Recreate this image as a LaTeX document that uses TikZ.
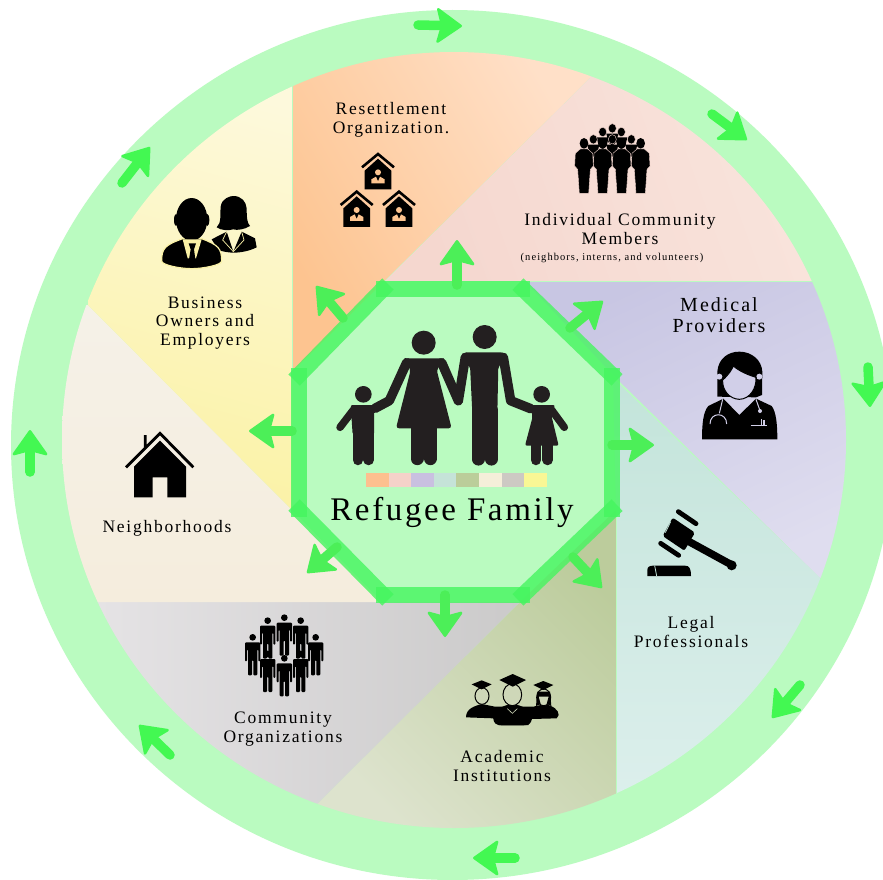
\documentclass[tikz,border=0pt]{standalone}
\usepackage{fontspec}
\usepackage{xcolor}
\usetikzlibrary{arrows.meta}
\newfontfamily\labelfont[LetterSpace=10]{Liberation Serif}
\newfontfamily\titlefont[LetterSpace=8]{Liberation Serif}
\definecolor{ringgreen}{HTML}{BAFBC0}
\definecolor{edgegreen}{HTML}{45F55F}
\definecolor{arrowgreen}{HTML}{4CEF58}
\definecolor{ringarrow}{HTML}{43F852}
\definecolor{iconblack}{HTML}{231F20}
\definecolor{orangebg}{HTML}{FDC490}
\definecolor{orangeend}{HTML}{FFE0C8}
\definecolor{pinkbg}{HTML}{F5D7CF}
\definecolor{pinkend}{HTML}{F9E4DC}
\definecolor{purplebg}{HTML}{C8C6E3}
\definecolor{purpleend}{HTML}{DFDDEF}
\definecolor{purpleface}{HTML}{D1CFE8}
\definecolor{yellowbg}{HTML}{FBF2A6}
\definecolor{yellowend}{HTML}{FDF9DC}
\definecolor{tealtop}{HTML}{C3E4DA}
\definecolor{tealend}{HTML}{DCEFEC}
\definecolor{olivetop}{HTML}{BCCC9C}
\definecolor{oliveend}{HTML}{DDE3CD}
\definecolor{olivemid}{HTML}{CED7B8}
\definecolor{greytop}{HTML}{CBCACA}
\definecolor{greyend}{HTML}{E5E3E5}
\definecolor{beigetop}{HTML}{F5F1E8}
\definecolor{beigeend}{HTML}{F5EDDD}
\tikzset{
	sectorlabel/.style={font=\labelfont\fontsize{17.5}{18.5}\selectfont, align=center, text=black},
	flow/.style={draw=arrowgreen, line width=9.5pt, line cap=round,
		-{Stealth[length=27pt,width=38pt,inset=5pt,round,line width=2.5pt]}},
	octaedge/.style={draw=edgegreen, opacity=0.8, line width=16pt, shorten >=-7pt, shorten <=-7pt},
	limb/.style={draw=iconblack, line cap=round, line join=round},
	% small house with a person in it, apex at the origin
	homeicon/.pic={
		\draw[line width=2.6pt, line join=miter] (-48,42) -- (0,2) -- (48,42);
		\fill (0,16) -- (40,52) -- (40,108) -- (-40,108) -- (-40,52) -- cycle;
		\fill[orangebg] (0,57) circle (9);
		\fill[orangebg] (-20,90) -- (-20,78) -- (-6,70) -- (0,84) -- (6,70) -- (20,78) -- (20,90) -- cycle;
	},
	% front figure of the crowd
	crowdfront/.pic={
		\fill (0,0) ellipse (13 and 16);
		\fill[draw=pinkbg, line width=0.4pt] (-11,17) -- (-26,30) -- (-28,68) -- (-19,78) -- (-14,150) -- (14,150) -- (19,78) -- (28,68) -- (26,30) -- (11,17) -- cycle;
	},
	crowdback/.pic={
		\fill[draw=pinkbg, line width=0.4pt] (0,0) ellipse (12 and 14);
		\fill (-18,16) -- (18,16) -- (12,42) -- (0,52) -- (-12,42) -- cycle;
	},
	% single figure of the organization group
	orgfigure/.pic={
		\fill (0,0) circle (10);
		\fill[rounded corners=1pt] (-23,15) -- (23,15) -- (23,72) -- (17,72) -- (17,36) -- (14,36) -- (14,114) -- (2,114) -- (2,68) -- (-2,68) -- (-2,114) -- (-14,114) -- (-14,36) -- (-17,36) -- (-17,72) -- (-23,72) -- cycle;
	},
}
\begin{document}
\begin{tikzpicture}[x=1pt, y=-1pt, node font=\labelfont]
	\useasboundingbox (0,0) rectangle (883,880);
	\clip (0,0) rectangle (883,880);
	\fill[white] (0,0) rectangle (883,880);
	\fill[ringgreen] (452.5,445) ellipse (441.5 and 435);

	% the eight sectors
	\begin{scope}
		\clip (454,440) ellipse (392 and 388);
		\shade[top color=orangeend, bottom color=orangebg, shading angle=-60] (292,372) -- (590,78) -- (590,48) -- (292,48) -- cycle;
		\shade[top color=pinkend, bottom color=pinkbg, shading angle=-70] (385,281) -- (590,78) -- (590,48) -- (812,48) -- (812,281) -- cycle;
		\shade[top color=purplebg, bottom color=purpleend, shading angle=25] (525,281) -- (846,281) -- (846,578) -- (820,578) -- (613,375) -- cycle;
		\shade[top color=tealtop, bottom color=tealend] (613,378) -- (820,578) -- (820,797) -- (616,797) -- (616,510) -- cycle;
		\shade[top color=olivetop, bottom color=oliveend, shading angle=-45] (616,510) -- (616,830) -- (316,830) -- (316,805) -- (520,602) -- cycle;
		\shade[left color=greyend, right color=greytop] (520,602) -- (316,805) -- (97,805) -- (97,602) -- cycle;
		\shade[top color=beigetop, bottom color=beigeend] (292,510) -- (382,602) -- (62,602) -- (62,305) -- (88,305) -- cycle;
		\shade[top color=yellowend, middle color=yellowbg!80!yellowend, bottom color=yellowbg, shading angle=-15] (88,305) -- (292,510) -- (292,60) -- (88,60) -- cycle;
		\draw[ringgreen, line width=1pt] (292,85) -- (292,372) (525,281) -- (812,281) (616,510) -- (616,797);
	\end{scope}

	% octagon
	\coordinate (o1) at (383,289);
	\coordinate (o2) at (523,289);
	\coordinate (o3) at (612,375);
	\coordinate (o4) at (612,510);
	\coordinate (o5) at (523,595);
	\coordinate (o6) at (383,595);
	\coordinate (o7) at (299,510);
	\coordinate (o8) at (299,375);
	\fill[ringgreen] (o1) -- (o2) -- (o3) -- (o4) -- (o5) -- (o6) -- (o7) -- (o8) -- cycle;
	\foreach \a/\b in {o1/o2,o2/o3,o3/o4,o4/o5,o5/o6,o6/o7,o7/o8,o8/o1}
		\draw[octaedge] (\a) -- (\b);

	% arrows around the ring
	\foreach \fx/\fy/\tx/\ty in {418/25/462/26, 712/114/747/140, 868/367/870/407, 800/685/772/718, 515/858/473/858, 170/755/139/725, 30/472/30/430, 122/183/150/147}
		\draw[flow, draw=ringarrow] (\fx,\fy) -- (\tx,\ty);
	% arrows leaving the octagon
	\foreach \fx/\fy/\tx/\ty in {457/285/457/240, 570/328/603/301, 612/445/654/445, 573/557/602/588, 445/595/445/637, 337/547/307/573, 292/431/249/431, 343/318/316/286}
		\draw[flow] (\fx,\fy) -- (\tx,\ty);

	% family
	\begin{scope}[shift={(290,270)}, scale=1/3]
		\fill[iconblack] (584,201) circle (36);
		\fill[iconblack, rounded corners=4pt] (518,247) -- (645,247) -- (655,275) -- (625,285) -- (622,430) -- (547,430) -- (540,285) -- (512,275) -- cycle;
		\draw[limb, line width=9.5pt] (640,262) -- (662,392) -- (722,416);
		\draw[limb, line width=9.5pt] (526,262) -- (505,392);
		\draw[limb, line width=12.5pt] (565,420) -- (565,568);
		\draw[limb, line width=12.5pt] (604,420) -- (604,568);

		\fill[iconblack] (401,218) circle (36);
		\fill[iconblack, rounded corners=3pt] (340,265) -- (465,265) -- (440,300) -- (485,475) -- (318,475) -- (362,300) -- cycle;
		\draw[limb, line width=9.5pt] (350,278) -- (298,392) -- (255,415);
		\draw[limb, line width=9.5pt] (455,278) -- (505,392);
		\draw[limb, line width=13pt] (381,470) -- (381,566);
		\draw[limb, line width=13pt] (421,470) -- (421,566);

		\fill[iconblack] (220,373) circle (25);
		\fill[iconblack, rounded corners=2pt] (182,405) -- (252,405) -- (252,495) -- (188,495) -- cycle;
		\draw[limb, line width=7.5pt] (190,420) -- (150,472);
		\draw[limb, line width=10.5pt] (204,490) -- (204,570);
		\draw[limb, line width=10.5pt] (236,490) -- (236,570);

		\fill[iconblack] (755,373) circle (25);
		\fill[iconblack, rounded corners=2pt] (720,405) -- (795,405) -- (785,440) -- (806,527) -- (705,527) -- (728,440) -- cycle;
		\draw[limb, line width=7.5pt] (785,420) -- (823,472);
		\draw[limb, line width=10.5pt] (738,520) -- (738,570);
		\draw[limb, line width=10.5pt] (773,520) -- (773,570);

		\foreach \n/\c in {0/FDC08F, 1/F5D2C9, 2/C9C0E0, 3/C5E3D8, 4/BBCD9A, 5/F5EFD9, 6/CDC9C3, 7/F9F795} {
			\definecolor{stripcolor}{HTML}{\c}
			\fill[stripcolor] (228+\n*67.75,610) rectangle (228+\n*67.75+67.75,650);
		}
	\end{scope}
	\node[font=\titlefont\fontsize{33}{33}\selectfont] (family) at (452,512) {Refugee Family};

	% homes
	\begin{scope}[shift={(290,60)}, scale=1/3]
		\path (264,280) pic[transform shape] {homeicon};
		\path (200,393) pic[transform shape] {homeicon};
		\path (327,393) pic[transform shape] {homeicon};
	\end{scope}
	\node[sectorlabel] (resettlement) at (391,120) {Resettlement\\Organization.};

	% crowd
	\begin{scope}[shift={(290,60)}, scale=1/3]
		\foreach \hx/\hy in {938/216, 967/205, 994/216, 910/238, 967/238, 1024/238}
			\path (\hx,\hy) pic[transform shape] {crowdback};
		\foreach \hx in {882,938,995,1052}
			\path (\hx,250) pic[transform shape] {crowdfront};
	\end{scope}
	\node[sectorlabel] (individual) at (620,229) {Individual Community\\Members};
	\node[font=\labelfont\fontsize{10.5}{11}\selectfont] (neighbors) at (612,258) {(neighbors, interns, and volunteers)};

	% medical provider
	\begin{scope}[shift={(630,280)}, scale=1/3]
		\fill (262,350) -- (262,275) .. controls (265,235) and (295,215) .. (328,215) .. controls (365,215) and (395,240) .. (397,275) -- (396,345) -- (378,352) -- cycle;
		\fill (216,478) .. controls (216,430) and (220,395) .. (235,378) -- (280,356) -- (328,405) -- (378,356) -- (425,378) .. controls (438,395) and (442,430) .. (442,478) -- cycle;
		\fill[purpleface] (268,290) circle (9) (388,290) circle (9);
		\draw[fill=purpleface, line width=1pt] (278,300) .. controls (295,285) and (305,270) .. (310,258) .. controls (330,275) and (355,285) .. (378,292) .. controls (380,325) and (360,357) .. (328,358) .. controls (298,357) and (276,330) .. (278,300) -- cycle;
		\draw[purpleface, line width=1pt] (278,358) -- (268,400) (240,432) .. controls (240,395) and (290,395) .. (290,432) (378,358) -- (390,392);
		\fill[purpleface] (390,393) circle (6);
		\draw[purpleface, line width=1.2pt] (362,437) -- (412,437) (395,417) -- (395,435) (402,420) -- (402,435);
	\end{scope}
	\node[sectorlabel, font=\labelfont\fontsize{20}{21}\selectfont] (medical) at (719,315) {Medical\\Providers};

	% gavel
	\begin{scope}[shift={(630,280)}, scale=1/3]
		\fill[rounded corners=2pt] (128,713) -- (195,758) -- (163,812) -- (98,768) -- cycle;
		\draw[line cap=round, line width=7.5pt] (172,782) -- (300,852);
		\fill (305,856) circle (15);
		\draw[line cap=round, line width=4.8pt] (145,695) -- (198,731);
		\draw[line cap=round, line width=4.8pt] (92,790) -- (146,826);
		\fill (52,888) -- (52,870) .. controls (52,860) and (60,857) .. (70,857) -- (165,857) .. controls (178,857) and (183,865) .. (183,888) -- cycle;
		\draw[tealtop, line width=0.8pt] (74,857) -- (80,888) (122,725) -- (106,758);
	\end{scope}
	\node[sectorlabel] (legal) at (691,632) {Legal\\Professionals};

	% academic
	\begin{scope}[shift={(220,600)}, scale=1/3]
		\fill (738,352) .. controls (738,325) and (765,318) .. (785,312) -- (825,320) -- (940,320) -- (975,312) .. controls (1000,318) and (1016,330) .. (1016,345) -- (1010,355) -- (935,357) .. controls (935,370) and (925,376) .. (910,376) -- (845,376) .. controls (828,376) and (820,368) .. (820,355) -- cycle;
		\fill (820,355) .. controls (820,330) and (850,315) .. (877,312) .. controls (905,315) and (935,330) .. (937,355) -- (925,375) -- (835,375) -- cycle;
		\draw[fill=olivemid, line width=1pt] (786,288) ellipse (21 and 25);
		\draw[fill=olivemid, line width=1pt] (877,284) ellipse (28 and 33);
		\draw[fill=olivemid, line width=1pt] (971,292) ellipse (21 and 25);
		\fill (952,275) -- (990,275) -- (994,318) -- (980,312) -- (986,290) -- (956,290) -- (962,312) -- (948,318) -- cycle;
		\fill (755,253) -- (785,241) -- (815,253) -- (785,268) -- cycle;
		\fill (838,240) -- (878,222) -- (918,240) -- (878,260) -- cycle;
		\fill (940,255) -- (970,243) -- (1000,255) -- (970,270) -- cycle;
		\draw[olivemid, line width=0.6pt] (862,326) -- (877,340) -- (892,326);
	\end{scope}
	\node[sectorlabel] (academic) at (502,766) {Academic\\Institutions};

	% organizations
	\begin{scope}[shift={(220,600)}, scale=1/3]
		\foreach \hx/\hy in {143/62, 193/53, 242/62, 98/112, 287/112, 143/162, 193/175, 242/162}
			\path (\hx,\hy) pic[transform shape] {orgfigure};
	\end{scope}
	\node[sectorlabel] (community) at (283,729) {Community\\Organizations};

	% neighborhood house
	\begin{scope}[shift={(90,190)}, scale=1/3]
		\draw[line width=2.8pt] (108,832) -- (210,730) -- (310,832) (166,735) -- (166,772);
		\fill (210,752) -- (288,830) -- (288,922) -- (232,922) -- (232,862) -- (188,862) -- (188,922) -- (132,922) -- (132,830) -- cycle;
	\end{scope}
	\node[sectorlabel] (neighborhoods) at (167,528) {Neighborhoods};

	% business people
	\begin{scope}[shift={(90,190)}, scale=1/3]
		\fill (380,112) .. controls (395,100) and (390,70) .. (392,50) .. controls (395,25) and (420,18) .. (430,18) .. controls (455,18) and (468,35) .. (470,55) .. controls (470,85) and (472,100) .. (480,108) .. controls (465,118) and (440,122) .. (430,118) .. controls (415,122) and (395,122) .. (380,112) -- cycle;
		\fill (365,148) -- (410,125) -- (430,185) -- (455,125) -- (495,145) -- (500,172) .. controls (480,182) and (455,188) .. (430,188) .. controls (415,188) and (395,184) .. (385,180) -- cycle;
		\draw[yellowbg, line width=0.7pt] (410,125) -- (398,150) -- (430,185) -- (462,150) -- (455,125);
		\draw[fill=black, draw=yellowbg, line width=1.2pt] (215,213) .. controls (215,175) and (225,165) .. (278,146) -- (335,146) .. controls (385,165) and (395,175) .. (395,213) .. controls (395,225) and (340,236) .. (305,236) .. controls (270,236) and (215,225) .. (215,213) -- cycle;
		\fill (305,88) ellipse (47 and 64);
		\fill (258,90) ellipse (6 and 18) (352,90) ellipse (6 and 18);
		\fill[yellowbg] (278,148) -- (335,148) -- (318,205) -- (293,205) -- cycle;
		\fill (296,160) -- (318,160) -- (312,178) -- (316,208) -- (297,208) -- (302,178) -- cycle;
	\end{scope}
	\node[sectorlabel] (business) at (205,323) {Business\\Owners and\\Employers};
\end{tikzpicture}
\end{document}
